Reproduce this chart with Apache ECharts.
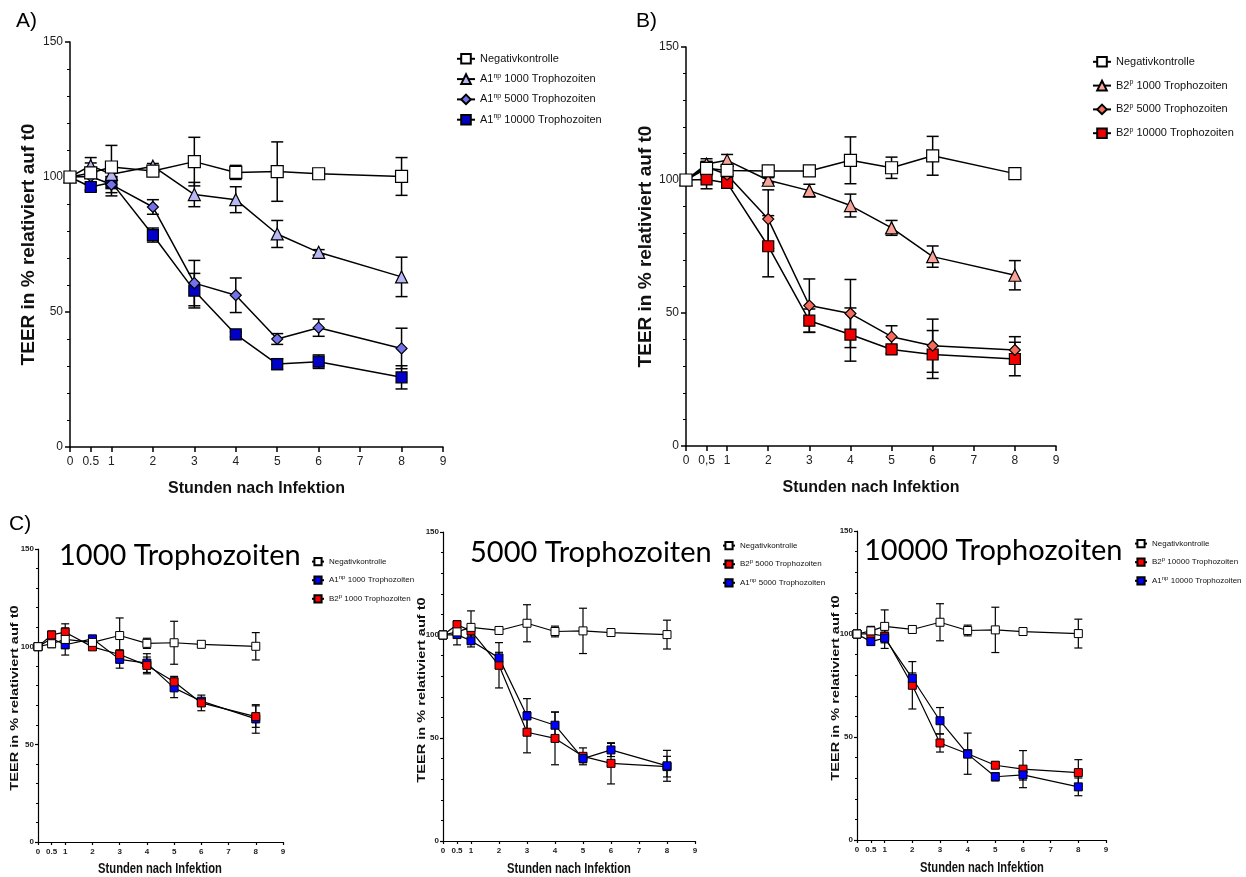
<!DOCTYPE html>
<html>
<head>
<meta charset="utf-8">
<script src="https://cdn.jsdelivr.net/npm/echarts@6/dist/echarts.min.js"></script>
<style>
  html, body { margin: 0; padding: 0; background: #fff; }
  #main { width: 1246px; height: 877px; }
</style>
</head>
<body>
<div id="main"></div>
<script>
// time points (hours after infection) and axis ticks
var hours = [0, 0.5, 1, 2, 3, 4, 5, 6, 8];
var xTicks = [0, 0.5, 1, 2, 3, 4, 5, 6, 7, 8, 9];

// A) A1np strain
var negA        = [100, 101.5, 103.7, 102.2, 105.7, 101.7, 102.0, 101.2, 100.2];
var negAErr     = [0, 2.0, 8.0, 1.5, 9.0, 2.6, 11.0, 1.5, 7.0];
var a1_1000     = [100, 104.2, 101.0, 104.0, 93.5, 91.6, 78.9, 72.1, 63.0];
var a1_1000Err  = [0, 3.0, 2.0, 1.0, 4.5, 4.8, 5.0, 1.0, 7.3];
var a1_5000     = [100, 100.2, 97.2, 88.9, 60.7, 56.2, 40.0, 44.2, 36.5];
var a1_5000Err  = [0, 5.0, 3.0, 2.7, 8.4, 6.4, 2.0, 3.2, 7.5];
var a1_10000    = [100, 96.3, 98.0, 78.5, 57.9, 41.7, 30.7, 31.6, 25.8];
var a1_10000Err = [0, 1.5, 5.0, 2.6, 6.4, 1.0, 2.0, 2.5, 4.3];

// B) B2p strain
var negB        = [100, 104.4, 103.6, 103.4, 103.4, 107.4, 104.6, 109.1, 102.4];
var negBErr     = [0, 2.5, 1.5, 1.0, 1.0, 8.8, 4.0, 7.3, 1.0];
var b2_1000     = [100, 106.0, 107.4, 99.9, 96.0, 90.4, 82.0, 71.2, 64.2];
var b2_1000Err  = [0, 2.0, 2.2, 1.0, 2.4, 4.3, 2.8, 4.0, 5.5];
var b2_5000     = [100, 105.0, 102.0, 85.3, 52.8, 49.8, 41.1, 37.7, 36.1];
var b2_5000Err  = [0, 2.0, 2.0, 11.0, 10.0, 12.8, 4.1, 10.0, 5.0];
var b2_10000    = [100, 100.2, 98.9, 75.1, 47.1, 41.9, 36.3, 34.4, 32.7];
var b2_10000Err = [0, 3.5, 2.0, 11.5, 4.4, 10.0, 1.5, 9.0, 6.3];

var NEG = 'Negativkontrolle';
var YNAME = 'TEER in % relativiert auf t0';
var XNAME = 'Stunden nach Infektion';
var SANS = '"Liberation Sans", Arial, sans-serif';

var myChart = echarts.init(document.getElementById('main'));

// panel geometry (grid = plot area)
var panels = [
  {left: 70,  top: 42,  width: 373, height: 405, big: true,  comma: false, yGap: 32},
  {left: 686, top: 47,  width: 370, height: 399, big: true,  comma: true,  yGap: 27},
  {left: 38,  top: 549, width: 245, height: 293, big: false, comma: false},
  {left: 443, top: 532, width: 252, height: 309, big: false, comma: false},
  {left: 857, top: 531, width: 249, height: 309, big: false, comma: false}
];

var grids = [], xAxes = [], yAxes = [], series = [];

panels.forEach(function (p, i) {
  grids.push({left: p.left, top: p.top, width: p.width, height: p.height});
  var lab = p.big
    ? {fontFamily: SANS, fontSize: 12, color: '#222'}
    : {fontFamily: SANS, fontSize: 8, fontWeight: 'bold', color: '#222'};
  xAxes.push({
    type: 'value', gridIndex: i, min: 0, max: 9,
    splitLine: {show: false},
    axisLine: {onZero: false, lineStyle: {color: '#000', width: p.big ? 1.5 : 1.2}},
    axisTick: {customValues: xTicks, length: p.big ? 5 : 3, lineStyle: {color: '#000', width: p.big ? 1.5 : 1.2}},
    axisLabel: Object.assign({
      customValues: xTicks, margin: p.big ? 9 : 6,
      formatter: function (v) { return (p.comma && v === 0.5) ? '0,5' : String(v); }
    }, lab),
    name: p.big ? XNAME : '', nameLocation: 'middle', nameGap: 34,
    nameTextStyle: {fontFamily: SANS, fontSize: 16, fontWeight: 'bold', color: '#111'}
  });
  yAxes.push({
    type: 'value', gridIndex: i, min: 0, max: 150, interval: 50,
    splitLine: {show: false},
    axisLine: {show: true, lineStyle: {color: '#000', width: p.big ? 1.5 : 1.2}},
    axisTick: {show: true, length: p.big ? 5 : 3, lineStyle: {color: '#000', width: p.big ? 1.5 : 1.2}},
    minorTick: {show: true, splitNumber: 5, length: p.big ? 3 : 2, lineStyle: {color: '#000', width: 1}},
    axisLabel: Object.assign({margin: p.big ? 7 : 4}, lab),
    name: p.big ? YNAME : '', nameLocation: 'middle', nameGap: p.yGap,
    nameTextStyle: {fontFamily: SANS, fontSize: 19, fontWeight: 'bold', color: '#111'}
  });
});

function pairs(vals) {
  return hours.map(function (h, i) { return [h, vals[i]]; });
}

function addLine(panel, name, vals, symbol, size, fill) {
  var big = panels[panel].big;
  series.push({
    type: 'line', name: name, xAxisIndex: panel, yAxisIndex: panel,
    data: pairs(vals), symbol: symbol, symbolSize: size,
    showAllSymbol: true, z: 3,
    itemStyle: {color: fill, borderColor: '#000', borderWidth: big ? 1.2 : 1},
    lineStyle: {color: '#000', width: big ? 1.5 : 1.2},
    emphasis: {disabled: true}
  });
}

function addErr(panel, vals, errs) {
  var big = panels[panel].big;
  var cap = big ? 12 : 8;
  var lw = big ? 1.5 : 1.2;
  var data = [];
  hours.forEach(function (h, i) {
    if (errs[i] > 0) data.push([h, vals[i] - errs[i], vals[i] + errs[i]]);
  });
  series.push({
    type: 'custom', xAxisIndex: panel, yAxisIndex: panel, z: 2,
    data: data, encode: {x: 0, y: [1, 2]}, silent: true,
    renderItem: function (params, api) {
      var hi = api.coord([api.value(0), api.value(2)]);
      var lo = api.coord([api.value(0), api.value(1)]);
      var st = {stroke: '#000', lineWidth: lw};
      return {type: 'group', children: [
        {type: 'line', shape: {x1: hi[0], y1: hi[1], x2: lo[0], y2: lo[1]}, style: st},
        {type: 'line', shape: {x1: hi[0] - cap / 2, y1: hi[1], x2: hi[0] + cap / 2, y2: hi[1]}, style: st},
        {type: 'line', shape: {x1: lo[0] - cap / 2, y1: lo[1], x2: lo[0] + cap / 2, y2: lo[1]}, style: st}
      ]};
    }
  });
}

// A)
addErr(0, a1_10000, a1_10000Err); addErr(0, a1_5000, a1_5000Err);
addErr(0, a1_1000, a1_1000Err);   addErr(0, negA, negAErr);
addLine(0, 'A|A1np 10000 Trophozoiten', a1_10000, 'rect', 11, '#0000c8');
addLine(0, 'A|A1np 5000 Trophozoiten', a1_5000, 'diamond', 11, '#7272ea');
addLine(0, 'A|A1np 1000 Trophozoiten', a1_1000, 'triangle', 12, '#b8b8f4');
addLine(0, 'A|' + NEG, negA, 'rect', 12, '#fff');

// B)
addErr(1, b2_10000, b2_10000Err); addErr(1, b2_5000, b2_5000Err);
addErr(1, b2_1000, b2_1000Err);   addErr(1, negB, negBErr);
addLine(1, 'B|B2p 10000 Trophozoiten', b2_10000, 'rect', 11, '#f00000');
addLine(1, 'B|B2p 5000 Trophozoiten', b2_5000, 'diamond', 11, '#f46a5c');
addLine(1, 'B|B2p 1000 Trophozoiten', b2_1000, 'triangle', 12, '#f8a49a');
addLine(1, 'B|' + NEG, negB, 'rect', 12, '#fff');

// C) 1000
addErr(2, a1_1000, a1_1000Err); addErr(2, b2_1000, b2_1000Err); addErr(2, negA, negAErr);
addLine(2, 'C1|A1np 1000 Trophozoiten', a1_1000, 'rect', 8, '#0000ff');
addLine(2, 'C1|B2p 1000 Trophozoiten', b2_1000, 'rect', 8, '#ff0000');
addLine(2, 'C1|' + NEG, negA, 'rect', 8, '#fff');

// C) 5000
addErr(3, b2_5000, b2_5000Err); addErr(3, a1_5000, a1_5000Err); addErr(3, negA, negAErr);
addLine(3, 'C2|B2p 5000 Trophozoiten', b2_5000, 'rect', 8, '#ff0000');
addLine(3, 'C2|A1np 5000 Trophozoiten', a1_5000, 'rect', 8, '#0000ff');
addLine(3, 'C2|' + NEG, negA, 'rect', 8, '#fff');

// C) 10000
addErr(4, b2_10000, b2_10000Err); addErr(4, a1_10000, a1_10000Err); addErr(4, negA, negAErr);
addLine(4, 'C3|B2p 10000 Trophozoiten', b2_10000, 'rect', 8, '#ff0000');
addLine(4, 'C3|A1np 10000 Trophozoiten', a1_10000, 'rect', 8, '#0000ff');
addLine(4, 'C3|' + NEG, negA, 'rect', 8, '#fff');

function legendLabel(name) {
  var s = name.split('|')[1];
  return s.replace('A1np', 'A1{sup|np}').replace('B2p', 'B2{sup|p}');
}

function makeLegend(names, left, top, big, gap) {
  return {
    data: names, orient: 'vertical', left: left, top: top,
    itemWidth: big ? 18 : 12, itemHeight: big ? 12 : 9, itemGap: gap,
    selectedMode: false, formatter: legendLabel,
    textStyle: {
      fontFamily: SANS, fontSize: big ? 11 : 8, color: '#111',
      rich: {sup: {fontSize: big ? 7 : 6, padding: [0, 0, big ? 7 : 5, 0], fontFamily: SANS, color: '#111'}}
    }
  };
}

var legends = [
  makeLegend(['A|' + NEG, 'A|A1np 1000 Trophozoiten', 'A|A1np 5000 Trophozoiten', 'A|A1np 10000 Trophozoiten'], 451, 48, true, 7.5),
  makeLegend(['B|' + NEG, 'B|B2p 1000 Trophozoiten', 'B|B2p 5000 Trophozoiten', 'B|B2p 10000 Trophozoiten'], 1087, 51, true, 11),
  makeLegend(['C1|' + NEG, 'C1|A1np 1000 Trophozoiten', 'C1|B2p 1000 Trophozoiten'], 306, 552, false, 8.5),
  makeLegend(['C2|' + NEG, 'C2|B2p 5000 Trophozoiten', 'C2|A1np 5000 Trophozoiten'], 717, 536, false, 8.5),
  makeLegend(['C3|' + NEG, 'C3|B2p 10000 Trophozoiten', 'C3|A1np 10000 Trophozoiten'], 1129, 534, false, 8.5)
];

// axis names of the squeezed C panels: tall, narrow lettering
var cNameStyle = {fontFamily: SANS, fontSize: 14, fontWeight: 'bold', fill: '#111', align: 'center', verticalAlign: 'middle'};
function yNameC(x, y) {
  return {type: 'text', x: x, y: y, rotation: Math.PI / 2, scaleX: 1.04, scaleY: 0.82,
    style: Object.assign({text: YNAME}, cNameStyle)};
}
function xNameC(x, y) {
  return {type: 'text', x: x, y: y, scaleX: 0.8, scaleY: 1,
    style: Object.assign({text: XNAME}, cNameStyle)};
}

var panelTitle = {fontFamily: SANS, fontSize: 21, fontWeight: 'normal', color: '#000'};
var bigTitle = {fontFamily: 'Lato, "Open Sans", sans-serif', fontSize: 29, fontWeight: 'normal', color: '#000'};

var option = {
  animation: false,
  backgroundColor: '#fff',
  title: [
    {text: 'A)', left: 11, top: 6, textStyle: panelTitle},
    {text: 'B)', left: 631, top: 6, textStyle: panelTitle},
    {text: 'C)', left: 4, top: 509, textStyle: panelTitle},
    {text: '1000 Trophozoiten', left: 54, top: 536, textStyle: bigTitle},
    {text: '5000 Trophozoiten', left: 465, top: 533, textStyle: bigTitle},
    {text: '10000 Trophozoiten', left: 859, top: 531, textStyle: bigTitle}
  ],
  legend: legends,
  grid: grids,
  xAxis: xAxes,
  yAxis: yAxes,
  graphic: [
    yNameC(15, 698), yNameC(422, 690), yNameC(836, 688),
    xNameC(160, 869), xNameC(569, 869), xNameC(982, 868)
  ],
  series: series
};

myChart.setOption(option);
</script>
</body>
</html>
